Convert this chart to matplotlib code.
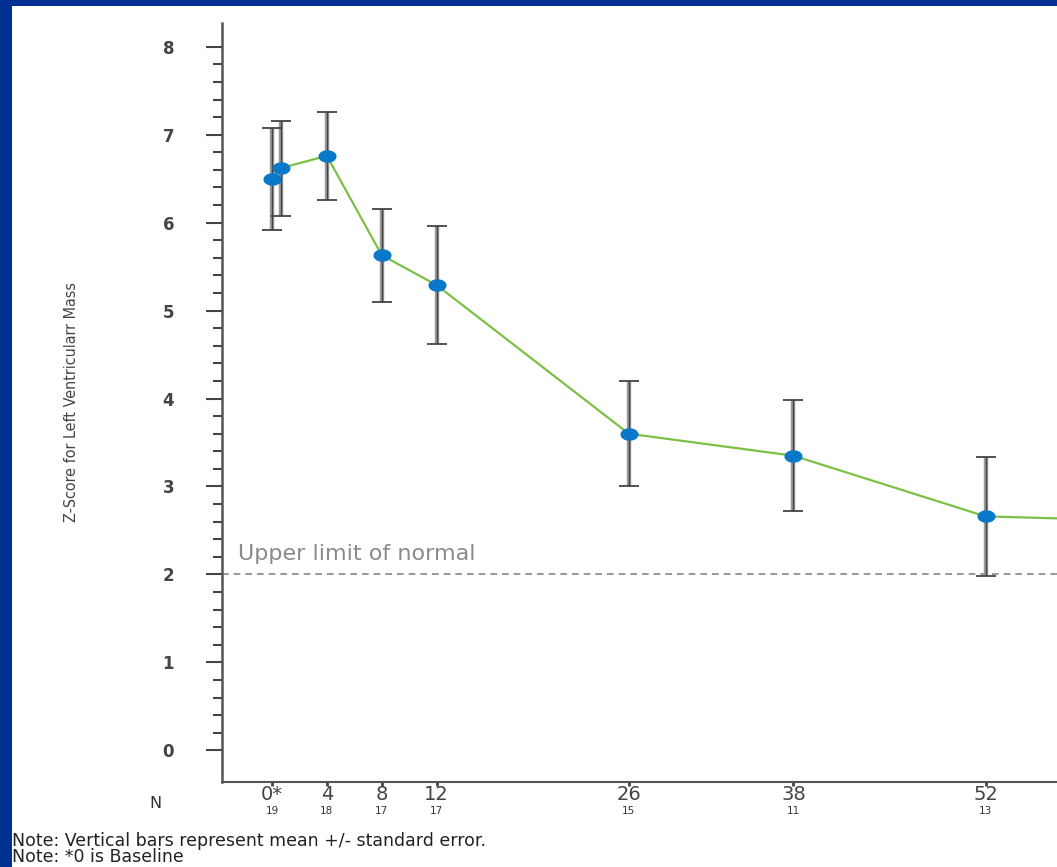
import matplotlib
matplotlib.use("Agg")
import matplotlib.pyplot as plt
import numpy as np
from matplotlib.path import Path
from matplotlib.patches import Rectangle
from matplotlib import font_manager

# ---- data ----
weeks = [0, 0.65, 4, 8, 12, 26, 38, 52, 66]
zscore = [6.50, 6.62, 6.76, 5.63, 5.29, 3.60, 3.35, 2.66, 2.60]
stderr = [0.58, 0.54, 0.50, 0.53, 0.67, 0.60, 0.63, 0.68, 0.68]
tick_weeks = [0, 4, 8, 12, 26, 38, 52]
tick_labels = ["0*", "4", "8", "12", "26", "38", "52"]
n_counts = ["19", "18", "17", "17", "15", "11", "13"]
normal_limit = 2

W, H = 1057, 867
fig = plt.figure(figsize=(W / 100, H / 100), dpi=100)
fig.patch.set_facecolor("white")

# pick a condensed font for the y label if available
names = {f.name for f in font_manager.fontManager.ttflist}
cond = [f for f in font_manager.fontManager.ttflist
        if f.name == "DejaVu Sans" and f.stretch == "condensed"]
if "Liberation Sans Narrow" in names:
    ylab_kw = dict(family="Liberation Sans Narrow", fontsize=13)
elif cond:
    ylab_kw = dict(family="DejaVu Sans", fontstretch="condensed", fontsize=11.5)
else:
    ylab_kw = dict(family="DejaVu Sans", fontsize=10)

# blue frame (top and left)
navy = "#003192"
fig.add_artist(Rectangle((0, 1 - 6 / H), 1, 6 / H, transform=fig.transFigure,
                         facecolor=navy, edgecolor="none", zorder=10))
fig.add_artist(Rectangle((0, 0), 12 / W, 1, transform=fig.transFigure,
                         facecolor=navy, edgecolor="none", zorder=10))

ax = fig.add_axes([222 / W, 1 - 782 / H, 1 - 222 / W, (782 - 23) / H])
ax.set_xlim(-3.64, 57.2)
ax.set_ylim(-0.36, 8.27)

for s in ["top", "right"]:
    ax.spines[s].set_visible(False)
ax.spines["left"].set_color("#555555")
ax.spines["left"].set_linewidth(1.8)
ax.spines["bottom"].set_color("#555555")
ax.spines["bottom"].set_linewidth(1.5)

# ellipse marker
t = np.linspace(0, 2 * np.pi, 60)
ell = Path(np.column_stack([1.5 * np.cos(t), np.sin(t)]), closed=True)

ax.axhline(normal_limit, color="#888888", linestyle=(0, (4, 3)), linewidth=1.2, zorder=1)
ax.text(-2.5, normal_limit + 0.12, "Upper limit of normal", color="#8a8a8a",
        fontsize=16, ha="left", va="bottom", family="DejaVu Sans")

# error bars: light thick + dark thin
ax.errorbar(weeks, zscore, yerr=stderr, fmt="none", ecolor="#9a9a9a",
            elinewidth=3.2, capsize=0, zorder=2)
ax.errorbar(weeks, zscore, yerr=stderr, fmt="none", ecolor="#444444",
            elinewidth=1.0, capsize=7, capthick=1.3, zorder=3)
ax.plot(weeks, zscore, color="#7cc046", linewidth=1.6, zorder=4)
ax.plot(weeks, zscore, linestyle="none", marker=ell, markersize=12,
        markerfacecolor="#0a78c8", markeredgecolor="#0a78c8", zorder=5)

# y ticks
ax.set_yticks(range(0, 9))
ax.set_yticks(np.arange(0, 8.01, 0.2), minor=True)
ax.tick_params(axis="y", which="major", length=11.5, width=1.5, color="#444444",
               pad=23, labelsize=12, labelcolor="#444444")
ax.tick_params(axis="y", which="minor", length=6.5, width=1.5, color="#444444")
for lab in ax.get_yticklabels():
    lab.set_fontweight("bold")

# x ticks
ax.set_xticks(tick_weeks)
ax.set_xticklabels(tick_labels)
ax.tick_params(axis="x", which="major", length=3, width=2, color="#444444",
               pad=-1, labelsize=14, labelcolor="#444444")

for x, n in zip(tick_weeks, n_counts):
    ax.annotate(n, xy=(x, 0), xycoords=("data", "axes fraction"),
                xytext=(0, -21), textcoords="offset points",
                ha="center", va="center", fontsize=7.5, color="#333333")
ax.annotate("N", xy=(0, 0), xycoords=("axes fraction", "axes fraction"),
            xytext=(-48, -15.5), textcoords="offset points",
            ha="center", va="center", fontsize=11.5, color="#333333")

ax.set_ylabel("Z-Score for Left Ventricularr Mass", color="#444444",
              labelpad=60, **ylab_kw)

fig.text(12 / W, 1 - 841 / H, "Note: Vertical bars represent mean +/- standard error.",
         fontsize=12.5, color="#222222", ha="left", va="center")
fig.text(12 / W, 1 - 857 / H, "Note: *0 is Baseline",
         fontsize=12.5, color="#222222", ha="left", va="center")

fig.savefig("out.png", dpi=100, facecolor="white")
